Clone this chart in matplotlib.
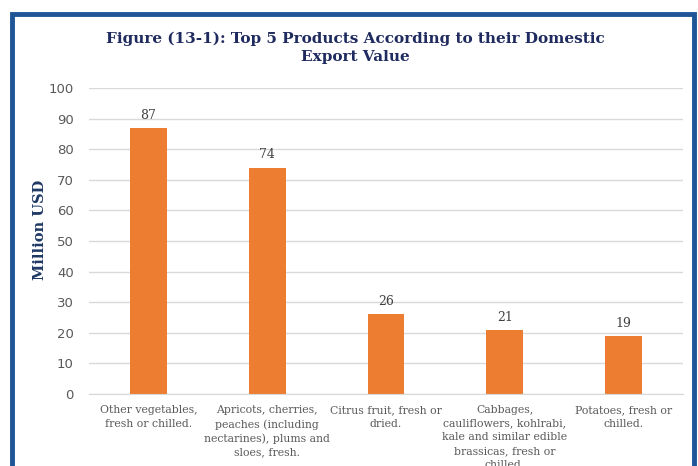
import matplotlib.pyplot as plt
from matplotlib.patches import Rectangle

categories = [
    "Other vegetables,\nfresh or chilled.",
    "Apricots, cherries,\npeaches (including\nnectarines), plums and\nsloes, fresh.",
    "Citrus fruit, fresh or\ndried.",
    "Cabbages,\ncauliflowers, kohlrabi,\nkale and similar edible\nbrassicas, fresh or\nchilled.",
    "Potatoes, fresh or\nchilled.",
]
values = [87, 74, 26, 21, 19]
yticks = list(range(0, 101, 10))

W, H = 698, 466
fig = plt.figure(figsize=(W / 100, H / 100), dpi=100)
ax = fig.add_axes([89 / W, 1 - 394 / H, (683 - 89) / W, (394 - 88) / H])

x = list(range(len(values)))
ax.bar(x, values, width=0.31, color="#ED7D31")
for xi, v in zip(x, values):
    ax.text(xi, v + 2, str(v), ha="center", va="bottom", fontsize=9,
            family="DejaVu Serif", color="#404040")

ax.set_xlim(-0.5, len(values) - 0.5)
ax.set_ylim(0, 100)
ax.set_yticks(yticks)
ax.yaxis.grid(True, color="#D9D9D9", linewidth=1)
ax.set_axisbelow(True)
for s in ["top", "right", "left"]:
    ax.spines[s].set_visible(False)
ax.spines["bottom"].set_color("#D9D9D9")
ax.tick_params(axis="both", length=0, colors="#595959")
ax.tick_params(axis="y", labelsize=9.5, pad=11)
ax.set_xticks(x)
ax.set_xticklabels(categories, fontsize=7.8, family="DejaVu Serif",
                   color="#595959", linespacing=1.45)
ax.tick_params(axis="x", pad=8)

fig.text(40 / W, 1 - 230 / H, "Million USD", rotation=90, ha="center", va="center",
         fontsize=10.5, fontweight="bold", family="DejaVu Serif", color="#1F3864")
fig.text(355 / W, 1 - 48 / H,
         "Figure (13-1): Top 5 Products According to their Domestic\nExport Value",
         ha="center", va="center", fontsize=11, fontweight="bold",
         family="DejaVu Serif", color="#1F2A5E", linespacing=1.35)

fig.patches.append(Rectangle((12 / W, -0.1), (694 - 12) / W, 1.1 - 14 / H,
                             transform=fig.transFigure, fill=False,
                             edgecolor="#1F5596", linewidth=3.5))

fig.savefig("out.png", dpi=100)
